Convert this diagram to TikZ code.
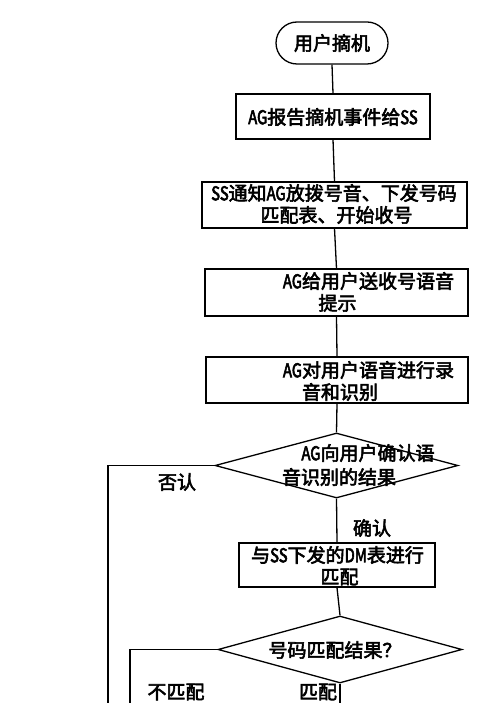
\documentclass[tikz,border=0pt]{standalone}
\usepackage{fontspec}
\usetikzlibrary{shapes.geometric}
\newfontfamily\cjk[FakeBold=3]{Noto Sans CJK SC}
\newfontfamily\latfont[FakeBold=3,FakeStretch=0.78]{Noto Sans CJK SC}
\newcommand\ltn[1]{{\latfont #1}}
\tikzset{
  box/.style={draw, line width=1.3pt, inner sep=0pt},
  lbl/.style={inner sep=0pt, font=\cjk\fontsize{19}{22}\selectfont},
  dia/.style={draw, diamond, line width=1.3pt, inner sep=0pt},
  con/.style={line width=1.3pt},
}
\begin{document}
\begin{tikzpicture}[x=1pt,y=-1pt]
\useasboundingbox (0,0) rectangle (500,703);
\fill[white] (0,0) rectangle (500,703);
% shapes
\node[box, rounded corners=21pt, minimum width=112pt, minimum height=42pt] (term) at (332,43) {};
\node[box, minimum width=194pt, minimum height=45pt] (b2) at (333,116.5) {};
\node[box, minimum width=265pt, minimum height=46pt] (b3) at (334.5,205) {};
\node[box, minimum width=263pt, minimum height=47pt] (b4) at (336.5,292.5) {};
\node[box, minimum width=262pt, minimum height=46pt] (b5) at (337,380) {};
\node[dia, minimum width=243pt, minimum height=65pt] (d1) at (336.5,465.5) {};
\node[box, minimum width=196pt, minimum height=44pt] (b6) at (337,565) {};
\node[dia, minimum width=244pt, minimum height=67pt] (d2) at (340,649.5) {};
% texts
\node[lbl] (t1) at (332,43) {用户摘机};
\node[lbl] (t2) at (333,117) {\ltn{AG}报告摘机事件给\ltn{SS}};
\node[lbl] (t3a) at (334,193) {\ltn{SS}通知\ltn{AG}放拨号音、下发号码};
\node[lbl] (t3b) at (336.5,215) {匹配表、开始收号};
\node[lbl] (t4a) at (368.5,281) {\ltn{AG}给用户送收号语音};
\node[lbl] (t4b) at (337.5,303) {提示};
\node[lbl] (t5a) at (368.5,370) {\ltn{AG}对用户语音进行录};
\node[lbl] (t5b) at (340,392) {音和识别};
\node[lbl] (t6a) at (368,453) {\ltn{AG}向用户确认语};
\node[lbl] (t6b) at (339,477) {音识别的结果};
\node[lbl] (t7a) at (337.5,555) {与\ltn{SS}下发的\ltn{DM}表进行};
\node[lbl] (t7b) at (339.5,577) {匹配};
\node[lbl] (t8) at (335,650) {号码匹配结果？};
\node[lbl] (no1) at (177,482) {否认};
\node[lbl] (yes1) at (372,528) {确认};
\node[lbl] (no2) at (176,692) {不匹配};
\node[lbl] (yes2) at (318,692) {匹配};
% connectors
\coordinate (c1) at (108,465.5);
\coordinate (c1e) at (108,710);
\coordinate (c2) at (130,649.5);
\coordinate (c2e) at (130,710);
\coordinate (c3e) at (340,710);
\draw[con] (term.south) -- (b2.north);
\draw[con] (b2.south) -- (b3.north);
\draw[con] (b3.south) -- (b4.north);
\draw[con] (b4.south) -- (b5.north);
\draw[con] (b5.south) -- (d1.north);
\draw[con] (d1.south) -- (b6.north);
\draw[con] (b6.south) -- (d2.north);
\draw[con] (d1.west) -- (c1) -- (c1e);
\draw[con] (d2.west) -- (c2) -- (c2e);
\draw[con] (d2.south) -- (c3e);
\end{tikzpicture}
\end{document}
